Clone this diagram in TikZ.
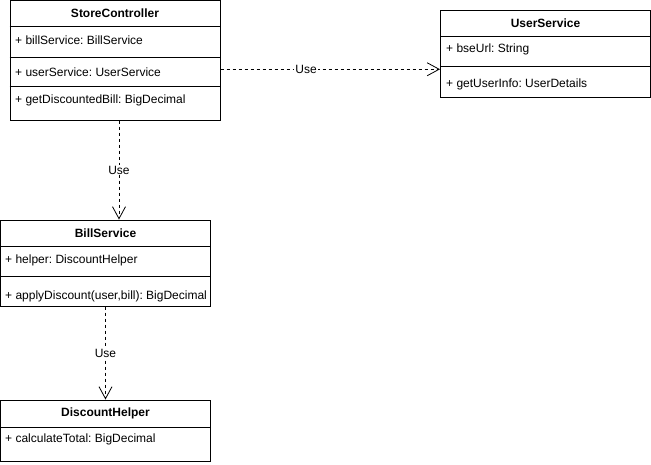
\documentclass[tikz,border=0pt]{standalone}
\usepackage{fontspec}
\setmainfont{Liberation Sans}
\usetikzlibrary{arrows.meta}
\frenchspacing
\tikzset{
  cls/.style={draw, inner sep=0pt, line width=1pt},
  title/.style={inner sep=0pt, font=\fontsize{12}{14}\selectfont\bfseries},
  attr/.style={anchor=west, inner sep=0pt, font=\fontsize{12}{14}\selectfont},
  use/.style={line width=0.8pt, dash pattern=on 3pt off 3pt, -{Straight Barb[length=12pt,width=13pt]}},
  lbl/.style={fill=white, inner sep=1pt, font=\fontsize{12}{14}\selectfont}
}
\begin{document}
\begin{tikzpicture}[x=1pt,y=-1pt]
\useasboundingbox (0,0) rectangle (651,464);
% StoreController
\node[cls, minimum width=210pt, minimum height=119.5pt] (sc) at (115,60.25) {};
\node[title] (sct) at (115,13) {StoreController};
\foreach \y in {26,57,86}{\draw[line width=1pt] (sc.west |- 0,\y) -- (sc.east |- 0,\y);}
\node[attr] (sc1) at (15,40) {+ billService: BillService};
\node[attr] (sc2) at (15,72) {+ userService: UserService};
\node[attr] (sc3) at (15,100) {+ getDiscountedBill: BigDecimal};
% UserService
\node[cls, minimum width=210pt, minimum height=87pt] (us) at (545.5,53.5) {};
\node[title] (ust) at (545.5,23) {UserService};
\foreach \y in {36,66}{\draw[line width=1pt] (us.west |- 0,\y) -- (us.east |- 0,\y);}
\node[attr] (us1) at (446,49) {+ bseUrl: String};
\node[attr] (us2) at (446,84) {+ getUserInfo: UserDetails};
% BillService
\node[cls, minimum width=210pt, minimum height=86pt] (bs) at (105.5,263) {};
\node[title] (bst) at (105.5,233) {BillService};
\foreach \y in {246,276}{\draw[line width=1pt] (bs.west |- 0,\y) -- (bs.east |- 0,\y);}
\node[attr] (bs1) at (5,260) {+ helper: DiscountHelper};
\node[attr] (bs2) at (5,296) {+ applyDiscount(user,bill): BigDecimal};
% DiscountHelper
\node[cls, minimum width=210pt, minimum height=61pt] (dh) at (105.5,430.5) {};
\node[title] (dht) at (105.5,413) {DiscountHelper};
\draw[line width=1pt] (dh.west |- 0,427) -- (dh.east |- 0,427);
\node[attr] (dh1) at (5,439) {+ calculateTotal: BigDecimal};
% dependencies
\draw[use] ([yshift=-9pt]sc.east) -- node[lbl, pos=0.39]{Use} ([yshift=-9pt]sc.east -| us.west);
\draw[use] ([xshift=4pt]sc.south) -- node[lbl]{Use} ([xshift=13.5pt]bs.north);
\draw[use] (bs.south) -- node[lbl]{Use} (dh.north);
\end{tikzpicture}
\end{document}
